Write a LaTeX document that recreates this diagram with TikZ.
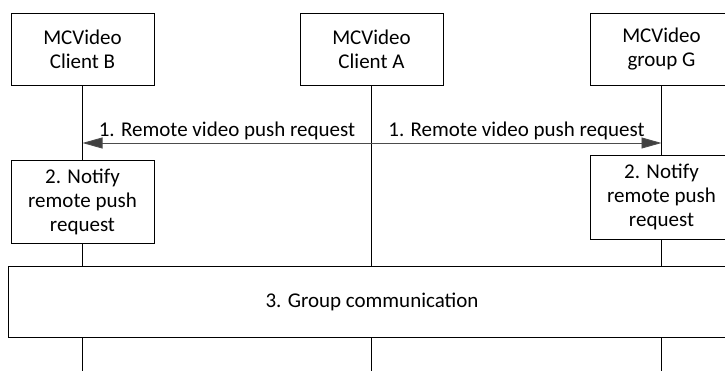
\documentclass[tikz,border=0pt]{standalone}
\usepackage{fontspec}
\setmainfont{Carlito}
\usetikzlibrary{arrows.meta}

\begin{document}
\begin{tikzpicture}[x=1pt,y=-1pt,line width=0.9pt,
  box/.style={draw, fill=white, align=center, minimum width=143pt, inner sep=0pt,
    font=\fontsize{21}{24}\selectfont},
  msg/.style={draw=black!70, -{Triangle[length=20pt,width=11pt,fill=black!75]}},
  lbl/.style={above, inner sep=3pt, font=\fontsize{21}{24}\selectfont}]
  \useasboundingbox (0,0) rectangle (725,371);
  \node[box, minimum height=72pt] (clientB) at (82.5,49) {MCVideo\\Client B};
  \node[box, minimum height=72pt] (clientA) at (371.5,49) {MCVideo\\Client A};
  \node[box, minimum height=72pt] (groupG) at (661.5,49) {MCVideo\\group G};
  \node[box, minimum height=83pt] (notifyB) at (82.5,201.5) {2. Notify\\remote push\\request};
  \node[box, minimum height=84pt] (notifyG) at (661.5,197) {2. Notify\\remote push\\request};
  \node[box, minimum width=728pt, minimum height=71pt] (groupcomm) at (372,301.5) {3. Group communication};
  \coordinate (endB) at (82.5,371);
  \coordinate (endA) at (371.5,371);
  \coordinate (endG) at (661.5,371);
  % lifelines
  \draw (clientB) -- (notifyB);
  \draw (notifyB.south) -- (notifyB.south |- groupcomm.north);
  \draw (groupcomm.south -| endB) -- (endB);
  \draw (clientA) -- (groupcomm.north -| clientA);
  \draw (groupcomm.south -| endA) -- (endA);
  \draw (groupG) -- (notifyG);
  \draw (notifyG.south) -- (notifyG.south |- groupcomm.north);
  \draw (groupcomm.south -| endG) -- (endG);
  % messages
  \draw[msg] (clientA.south |- 0,143) -- (clientB.south |- 0,143)
    node[lbl, midway] {1. Remote video push request};
  \draw[msg] (clientA.south |- 0,143) -- (groupG.south |- 0,143)
    node[lbl, midway] {1. Remote video push request};
\end{tikzpicture}
\end{document}
